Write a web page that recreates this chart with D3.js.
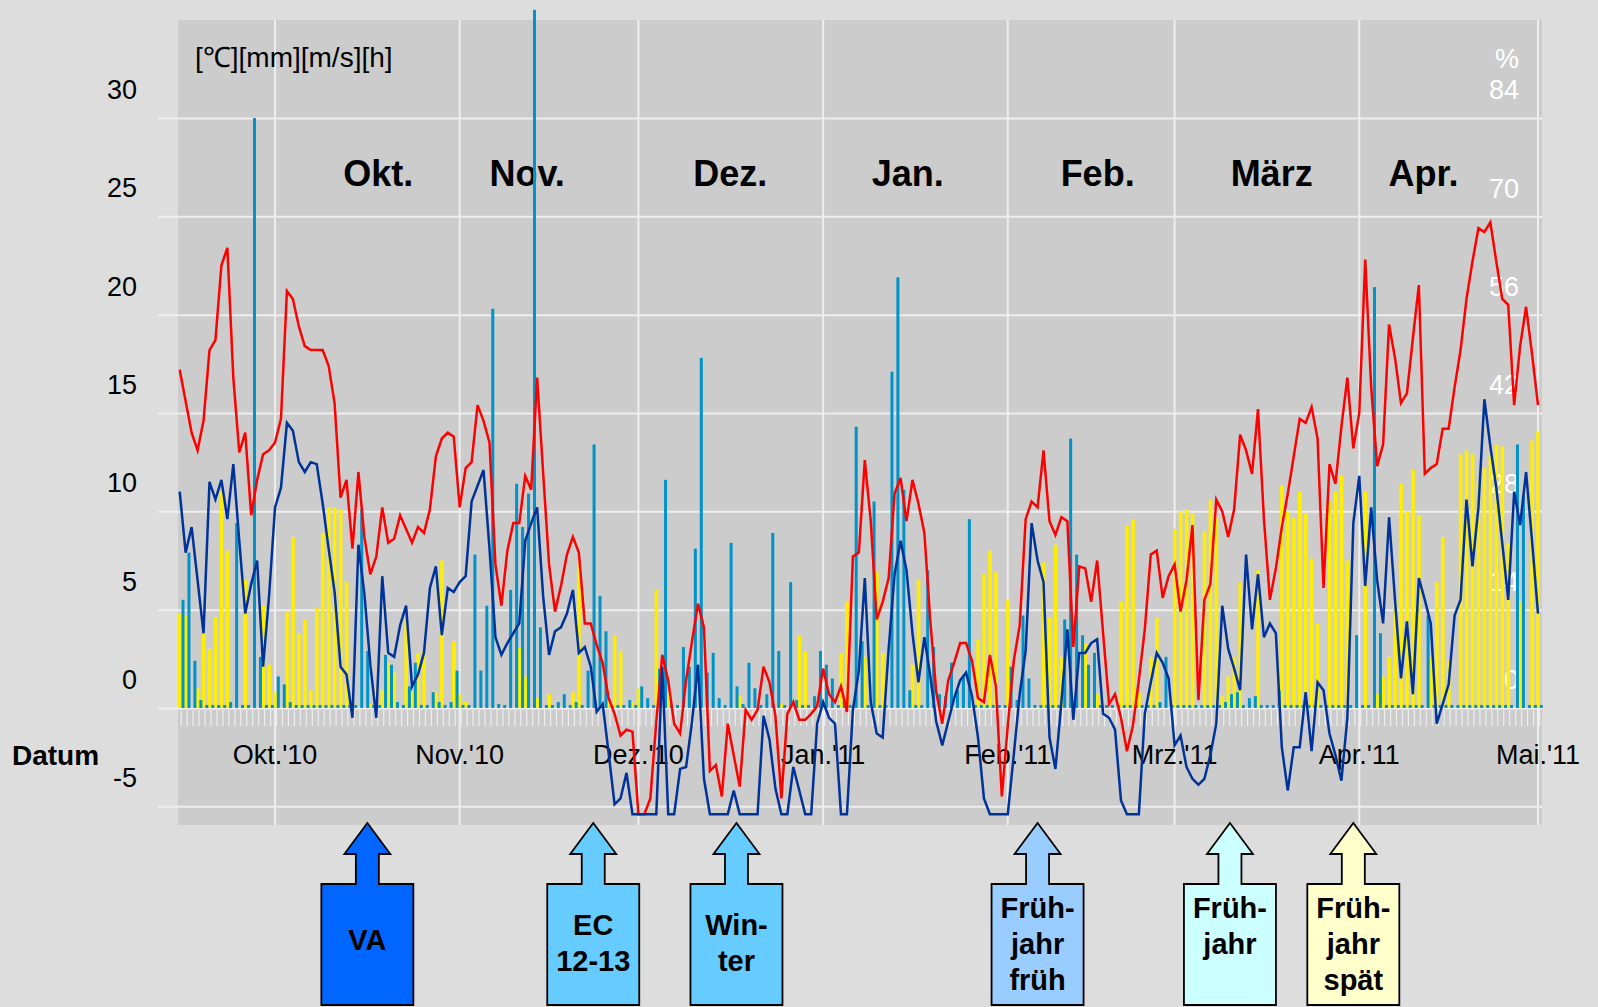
<!DOCTYPE html>
<html>
<head>
<meta charset="utf-8">
<script src="https://cdn.jsdelivr.net/npm/d3@7"></script>
<style>
  body { margin: 0; background: #dddddd; }
  svg { display: block; font-family: 'Liberation Sans', Arial, sans-serif; }
</style>
</head>
<body>
<script>
// Daily weather values, one entry per day from 15.09.2010 to 01.05.2011
const firstDay = '2010-09-15';

// max. temperature [°C] (red line)
const tMax = [
  17.2,15.6,14.0,13.1,14.6,18.2,18.7,22.5,23.4,16.8,
  13.0,14.0,9.8,11.6,12.9,13.1,13.5,14.7,21.2,20.8,
  19.4,18.4,18.2,18.2,18.2,17.4,15.5,10.7,11.6,8.1,
  12.0,8.7,6.8,7.7,10.2,8.4,8.6,9.8,9.1,8.4,
  9.2,8.9,10.1,12.8,13.7,14.0,13.8,10.2,12.2,12.5,
  15.4,14.6,13.5,7.3,5.2,8.0,9.4,9.4,11.8,11.1,
  16.8,12.0,7.3,4.9,6.2,7.8,8.7,7.9,4.3,4.3,
  3.2,2.3,0.5,-0.3,-1.4,-1.1,-1.2,-5.4,-5.4,-4.6,
  -0.7,2.7,1.4,-0.8,-1.3,1.4,3.4,5.3,4.1,-3.2,
  -2.9,-4.5,-0.8,-2.4,-4.0,-0.1,-0.6,-0.1,2.1,1.3,
  -0.4,-4.6,-0.3,0.3,-0.6,-0.6,-0.3,0.1,2.0,0.7,
  0.3,1.1,-0.2,7.7,7.9,12.6,9.5,4.5,5.4,6.6,
  10.9,11.7,9.5,11.6,10.4,8.9,4.4,0.8,-0.8,1.4,
  2.3,3.3,3.3,2.4,0.5,0.3,2.7,1.1,-4.5,-0.9,
  2.4,4.2,9.6,10.5,10.2,13.1,9.5,8.8,9.7,9.5,
  3.1,7.2,7.1,5.4,7.5,3.8,0.2,0.7,-0.5,-2.2,
  -0.9,1.4,4.0,7.8,8.0,5.6,6.7,7.3,4.9,6.5,
  9.3,0.4,5.5,6.3,10.6,10.0,8.7,10.1,13.9,13.1,
  11.9,15.2,9.6,5.5,7.1,9.2,10.9,12.8,14.7,14.5,
  15.3,13.7,6.1,12.4,11.4,14.3,16.8,13.2,15.0,22.8,
  16.3,12.3,13.4,19.5,17.8,15.5,16.0,18.8,21.5,11.9,
  12.2,12.4,14.2,14.2,16.3,18.2,20.8,22.7,24.4,24.2,
  24.7,22.7,20.8,20.5,15.4,18.4,20.4,18.0,15.4
];

// min. temperature [°C] (dark blue line)
const tMin = [
  11.0,7.9,9.2,6.5,3.8,11.5,10.6,11.6,9.6,12.4,
  8.5,4.8,6.3,7.5,2.1,5.7,10.2,11.2,14.5,14.1,
  12.5,12.0,12.5,12.4,10.4,8.1,5.9,2.1,1.7,-0.5,
  8.3,5.8,2.2,-0.5,6.7,2.8,2.6,4.2,5.2,1.1,
  1.7,2.8,6.1,7.2,3.7,6.1,5.9,6.4,6.7,10.5,
  11.3,12.1,8.1,3.6,2.7,3.3,3.8,4.3,8.5,9.4,
  10.2,5.7,2.7,3.9,4.1,4.8,6.0,2.8,3.1,2.1,
  -0.2,0.2,-2.3,-4.9,-4.6,-3.3,-5.4,-5.4,-5.4,-5.4,
  -5.4,2.1,-5.4,-5.4,-3.1,-3.0,-0.7,2.2,-3.6,-5.4,
  -5.4,-5.4,-5.4,-4.2,-5.4,-5.4,-5.4,-5.4,-0.4,-1.6,
  -4.1,-5.4,-5.4,-3.0,-4.2,-5.4,-5.4,-0.8,0.3,-0.5,
  -0.8,-5.4,-5.4,-0.1,1.9,6.6,0.3,-1.3,-1.5,3.0,
  6.8,8.5,7.0,3.8,1.3,3.6,1.6,-0.7,-1.9,-0.7,
  0.5,1.4,1.8,0.6,-1.5,-4.6,-5.4,-5.4,-5.4,-5.4,
  -2.4,0.7,2.9,9.4,7.5,6.4,-1.5,-3.1,0.3,4.0,
  -0.6,2.8,2.8,3.3,3.5,-0.3,-0.5,-1.1,-4.7,-5.4,
  -5.4,-5.4,-0.3,1.3,2.8,2.3,1.5,-1.9,-1.4,-3.0,
  -3.6,-3.9,-3.6,-2.4,-0.8,5.2,3.0,2.0,0.9,7.8,
  4.0,6.8,3.6,4.3,3.8,-2.0,-4.2,-2.0,-2.0,0.8,
  -2.2,1.3,0.9,-1.3,-2.4,-3.7,-0.5,9.4,11.8,6.2,
  10.2,6.5,4.3,9.7,5.5,1.5,4.4,0.7,6.6,5.5,
  4.3,-0.8,0.2,1.2,4.7,5.5,10.6,7.2,10.2,15.7,
  13.3,11.2,8.4,5.5,11.0,9.3,12.0,8.5,4.8
];

// precipitation [mm] (blue bars)
const rain = [
  5.5,7.9,2.4,0.4,0,0,0,0,0.3,9.4,
  0,0,30.0,2.6,0,0,1.6,1.2,0.3,0,
  0,0,0,0,0,0,0,0,0,0,
  10.1,2.9,0,0,2.7,2.2,0.3,0,1.1,2.3,
  0,0,0.8,0.3,0,0.3,1.9,0,0,7.8,
  1.9,5.2,20.3,0.2,0,6.0,11.4,9.2,10.9,35.5,
  4.1,0,0,0.3,0.7,0,0.3,0,1.9,13.4,
  5.7,3.9,0,0,0,0.4,0,1.1,0.5,0,
  2.0,11.6,0,0,3.1,2.1,8.1,17.8,1.8,2.8,
  0.5,0,8.4,1.1,0.2,2.3,1.0,0,0.7,8.9,
  2.9,0,6.4,0.4,0,0,0.6,2.9,2.2,1.5,
  0,0.4,0,14.3,3.4,0,10.5,0,0,17.1,
  21.9,11.1,0.9,0,0,7.0,3.1,0.7,0.6,2.3,
  0.9,1.6,9.6,0,0,0,0,0,0,2.1,
  0.4,4.7,1.5,0,0,0,0,0,4.5,13.7,
  7.8,3.7,2.2,2.8,0,0,0,0,0,0,
  0,0,0,0,0.3,2.6,0,0,0,0,
  0,0,0,0,0,0.3,0.7,0.8,0,0.5,
  0.6,0,0,0,0.9,0,0,0,0,0,
  0,0,0,0,0,0,0,3.7,0,0,
  21.4,3.8,0,0,0,0,0,0,0,4.7,
  0,0,0,0,0,0,0,0,0,0,
  0,0,0,0,13.4,10.8,0,0,0
];

// sunshine duration [h] (yellow bars)
const sun = [
  4.8,4.7,0,1.0,3.8,3.0,4.6,11.0,8.0,0,
  0,6.5,0,0,5.2,2.2,0.8,0,4.9,8.7,
  3.8,4.5,0.9,5.1,8.9,10.2,10.2,10.1,6.4,0.2,
  0,0,0.2,1.0,0.9,2.3,1.8,0,4.5,0.8,
  2.8,2.9,0,0.8,7.5,0,3.4,0.7,0.3,0,
  0,0,0,0,0,0,0,3.1,1.6,0,
  0.5,0,0.7,0,0,0,0.8,7.4,0,0,
  0,0,0.4,3.7,2.9,0,0.3,1.0,0,0,
  6.0,0,0.8,0,0,0,0,0,0,0,
  0,0,0,0,0.6,0,0,0,0,0,
  0,0.2,0,0,3.7,2.9,0,0,0,0,
  0,2.8,5.4,0,0,2.6,0,6.9,2.8,0,
  0,0,0,2.2,6.5,0,0,0,0,0,
  0,0,0,0,3.5,6.8,8.0,6.9,0,5.5,
  0,0,0,0,0,7.4,4.6,8.3,2.6,0,
  0,0,3.3,0,0.7,0,0,0,5.4,9.3,
  9.6,0.8,0,2.6,4.6,0,0,9.1,10.0,10.1,
  9.9,0,9.0,10.6,9.7,0.6,1.6,2.6,6.4,0,
  0,7.0,0,0,0,11.3,10.0,9.7,11.0,9.9,
  7.6,4.3,0,10.5,11.0,11.8,7.5,0,0,11.0,
  0,0.7,1.6,2.6,5.5,11.4,10.0,12.1,9.8,0,
  2.6,6.4,8.7,2.4,0,12.9,13.1,12.9,11.5,12.2,
  12.9,13.4,13.3,8.4,0,5.4,0,13.6,14.1
];

// axis ticks and labels
const leftTicks = [-5, 0, 5, 10, 15, 20, 25, 30];
const rightTicks = [0, 14, 28, 42, 56, 70, 84];
const monthStarts = ['2010-10-01', '2010-11-01', '2010-12-01', '2011-01-01', '2011-02-01', '2011-03-01', '2011-04-01', '2011-05-01'];
const monthTickLabels = ["Okt.'10", "Nov.'10", "Dez.'10", "Jan.'11", "Feb.'11", "Mrz.'11", "Apr.'11", "Mai.'11"];
const monthNames = ['Okt.', 'Nov.', 'Dez.', 'Jan.', 'Feb.', 'März', 'Apr.'];
const monthNameDates = ['2010-10-18T08', '2010-11-12T08', '2010-12-16T10', '2011-01-15T05', '2011-02-16T02', '2011-03-17T07', '2011-04-11T19'];

// season markers below the chart
const markerDates = ['2010-10-16T12', '2010-11-23T10', '2010-12-17T11', '2011-02-06T00', '2011-03-10T07', '2011-03-31T00'];
const markerLines = [['VA'], ['EC', '12-13'], ['Win-', 'ter'], ['Früh-', 'jahr', 'früh'], ['Früh-', 'jahr'], ['Früh-', 'jahr', 'spät']];
const markerColors = ['#0066ff', '#66ccff', '#66ccff', '#99ccff', '#ccffff', '#ffffcc'];
const markerFirstLine = [940, 925, 925, 908, 908, 908];

const render = () => {
  const width = 1598;
  const height = 1007;
  const plot = { left: 178, right: 1542, top: 20, bottom: 825 };
  const gridColor = '#eeeeee';

  const parseDay = d3.utcParse('%Y-%m-%d');
  const parseHour = d3.utcParse('%Y-%m-%dT%H');
  const start = parseDay(firstDay);
  const days = tMax.map((v, i) => d3.utcDay.offset(start, i));

  const x = d3.scaleUtc()
    .domain([start, parseDay('2011-05-01')])
    .range([179.7, 1538]);
  const y = d3.scaleLinear()
    .domain([-5, 30])
    .range([806.3, 118]);
  const yPct = d3.scaleLinear()
    .domain([0, 84])
    .range([y(0), y(30)]);

  const svg = d3.select('body').append('svg')
    .attr('width', width)
    .attr('height', height);

  // plot background
  svg.append('rect')
    .attr('x', plot.left)
    .attr('y', plot.top)
    .attr('width', plot.right - plot.left)
    .attr('height', plot.bottom - plot.top)
    .attr('fill', '#cccccc');

  // left axis with horizontal grid lines, labels sit above their line
  const leftAxis = d3.axisLeft(y)
    .tickValues(leftTicks)
    .tickFormat(d => String(d))
    .tickSize(-(plot.right - 158))
    .tickPadding(21);

  svg.append('g')
    .attr('transform', 'translate(158,0)')
    .call(leftAxis)
    .call(g => g.select('.domain').remove())
    .call(g => g.selectAll('.tick line').attr('stroke', gridColor).attr('stroke-width', 2))
    .call(g => g.selectAll('.tick text')
      .attr('y', -28)
      .attr('fill', '#000')
      .attr('font-size', 27)
      .attr('font-family', "'Liberation Sans', Arial, sans-serif"));

  // vertical month lines
  svg.append('g').selectAll('line')
    .data(monthStarts)
    .enter().append('line')
    .attr('x1', d => x(parseDay(d)))
    .attr('x2', d => x(parseDay(d)))
    .attr('y1', plot.top)
    .attr('y2', plot.bottom)
    .attr('stroke', gridColor)
    .attr('stroke-width', 2);

  // small daily ticks below the zero line
  svg.append('g').selectAll('line')
    .data(days)
    .enter().append('line')
    .attr('x1', d => x(d) + 1.5)
    .attr('x2', d => x(d) + 1.5)
    .attr('y1', y(0) + 2)
    .attr('y2', y(0) + 18)
    .attr('stroke', gridColor)
    .attr('stroke-width', 1.2);

  // unit label
  svg.append('text')
    .attr('x', 195)
    .attr('y', 57)
    .attr('dy', '0.35em')
    .attr('font-size', 28)
    .text('[℃][mm][m/s][h]');

  // right axis (%), white labels
  const rightG = svg.append('g')
    .attr('fill', '#ffffff')
    .attr('font-size', 27)
    .attr('text-anchor', 'end');
  rightG.selectAll('text')
    .data(rightTicks)
    .enter().append('text')
    .attr('x', 1519)
    .attr('y', d => yPct(d) - 28)
    .attr('dy', '0.35em')
    .text(d => d);
  rightG.append('text')
    .attr('x', 1519)
    .attr('y', yPct(84) - 59)
    .attr('dy', '0.35em')
    .text('%');

  // month names in the chart
  svg.append('g')
    .attr('font-size', 36)
    .attr('font-weight', 'bold')
    .attr('text-anchor', 'middle')
    .selectAll('text')
    .data(monthNames)
    .enter().append('text')
    .attr('x', (d, i) => x(parseHour(monthNameDates[i])))
    .attr('y', 173)
    .attr('dy', '0.35em')
    .text(d => d);

  // x axis labels
  svg.append('g')
    .attr('font-size', 27)
    .attr('text-anchor', 'middle')
    .selectAll('text')
    .data(monthTickLabels)
    .enter().append('text')
    .attr('x', (d, i) => x(parseDay(monthStarts[i])))
    .attr('y', 755)
    .attr('dy', '0.35em')
    .text(d => d);

  svg.append('text')
    .attr('x', 12)
    .attr('y', 755)
    .attr('dy', '0.35em')
    .attr('font-size', 28)
    .attr('font-weight', 'bold')
    .text('Datum');

  // sunshine bars
  svg.append('g').selectAll('rect')
    .data(sun)
    .enter().append('rect')
    .attr('x', (d, i) => x(days[i]) - 1.7)
    .attr('y', d => y(d))
    .attr('width', 3.6)
    .attr('height', d => y(0) - y(d))
    .attr('fill', '#ffee00');

  // precipitation bars (dry days still show a small stub)
  svg.append('g').selectAll('rect')
    .data(rain)
    .enter().append('rect')
    .attr('x', (d, i) => x(days[i]) + 1.8)
    .attr('y', d => Math.min(y(d), y(0) - 3))
    .attr('width', 3)
    .attr('height', d => Math.max(y(0) - y(d), 3))
    .attr('fill', '#0093c9');

  // temperature lines
  const line = d3.line()
    .x((d, i) => x(days[i]))
    .y(d => y(d));

  svg.append('path')
    .datum(tMax)
    .attr('d', line)
    .attr('fill', 'none')
    .attr('stroke', '#ff0000')
    .attr('stroke-width', 2.5);

  svg.append('path')
    .datum(tMin)
    .attr('d', line)
    .attr('fill', 'none')
    .attr('stroke', '#003399')
    .attr('stroke-width', 2.5);

  // season markers: arrow pointing up into the chart with a label box
  const arrowShape = [[0, 823], [23, 854], [11.5, 854], [11.5, 884], [46, 884], [46, 1005],
    [-46, 1005], [-46, 884], [-11.5, 884], [-11.5, 854], [-23, 854]];

  const markers = svg.append('g').selectAll('g')
    .data(markerDates)
    .enter().append('g')
    .attr('transform', d => `translate(${x(parseHour(d))},0)`);

  markers.append('polygon')
    .attr('points', arrowShape.map(p => p.join(',')).join(' '))
    .attr('fill', (d, i) => markerColors[i])
    .attr('stroke', '#000')
    .attr('stroke-width', 1.8);

  markers.each(function(d, i) {
    d3.select(this).selectAll('text')
      .data(markerLines[i])
      .enter().append('text')
      .attr('x', 0)
      .attr('y', (t, j) => markerFirstLine[i] + j * 36)
      .attr('dy', '0.35em')
      .attr('text-anchor', 'middle')
      .attr('font-size', 29)
      .attr('font-weight', 'bold')
      .text(t => t);
  });
};

render();
</script>
</body>
</html>
